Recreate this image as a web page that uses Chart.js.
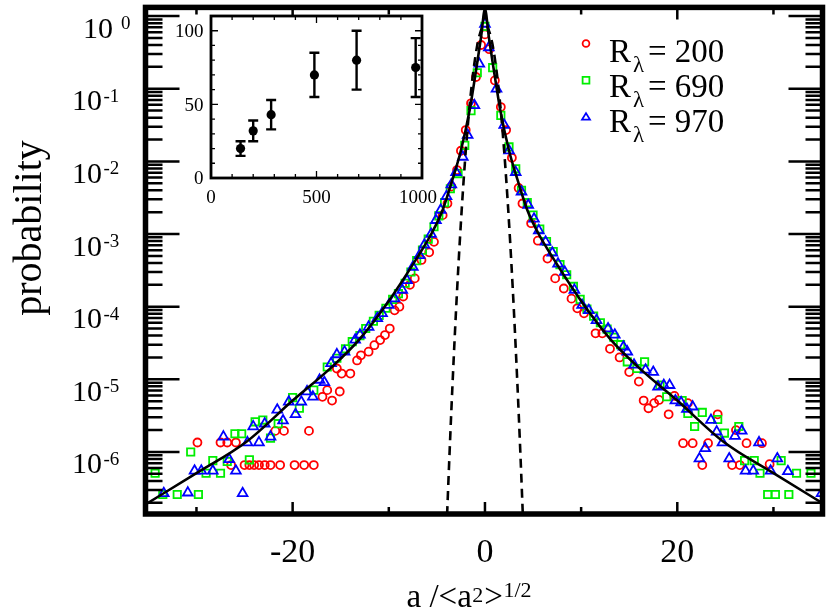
<!DOCTYPE html>
<html><head><meta charset="utf-8">
<script src="https://cdn.jsdelivr.net/npm/chart.js@4/dist/chart.umd.min.js"></script>
<style>
html,body{margin:0;padding:0;background:#fff;}
#wrap{position:relative;width:830px;height:614px;}
#wrap canvas{position:absolute;left:0;top:0;}
</style></head><body>
<div id="wrap"><canvas id="main" width="830" height="614"></canvas><canvas id="inset" width="830" height="614"></canvas></div>
<script>
// ---------- main panel data ----------
const r200X = [-29.9,-27.5,-26.8,-25.9,-26.4,-25.0,-24.5,-24.0,-23.5,-22.9,-22.3,-21.3,-19.8,-18.8,-17.8,-21.8,-20.9,-18.3,-16.9,-16.4,-15.9,-15.1,-15.4,-14.9,-14.0,-13.3,-12.9,-12.1,-11.5,-10.9,-10.4,-9.9,-9.4,-8.9,-8.5,-7.8,-7.3,-6.6,-5.8,-5.3,-4.4,-3.9,-3.5,-2.9,-2.5,-2.0,-1.45,-0.93,-0.4,0,
  0.45,1.03,1.65,2.2,2.8,3.5,3.9,4.8,5.5,6.5,7.3,8.2,9.0,9.6,10.3,11.5,12.2,13.0,14.0,15.0,16.0,16.5,17.0,17.6,18.1,19.1,19.7,20.6,21.1,21.6,22.6,23.2,24.2,25.7,26.1,26.5,27.2,28.8,29.6];
const r200P = [1.35e-6,1.35e-6,1.35e-6,1.35e-6,6.6e-7,6.6e-7,6.6e-7,6.6e-7,6.6e-7,6.6e-7,6.6e-7,6.6e-7,6.6e-7,6.6e-7,6.6e-7,1.95e-6,1.95e-6,1.95e-6,5.75e-6,7.1e-6,5.1e-6,6.8e-6,1.41e-5,1.2e-5,1.2e-5,1.82e-5,2.14e-5,2.4e-5,2.95e-5,3.47e-5,4.07e-5,5.0e-5,8.9e-5,1.0e-4,1.38e-4,2.0e-4,2.45e-4,4.4e-4,5.6e-4,7.8e-4,1.82e-3,2.63e-3,4.5e-3,7.6e-3,0.014,0.027,0.063,0.145,0.40,0.56,
  0.35,0.13,0.056,0.027,0.0112,4.3e-3,2.63e-3,1.41e-3,8.1e-4,4.6e-4,2.45e-4,1.78e-4,1.29e-4,9.5e-5,8.1e-5,4.3e-5,4.3e-5,2.63e-5,2.0e-5,1.26e-5,9.3e-6,5.1e-6,4.0e-6,4.7e-6,5.2e-6,3.3e-6,5.9e-6,1.32e-6,4.7e-6,1.32e-6,6.6e-7,1.32e-6,3.3e-6,6.6e-7,2.0e-6,6.6e-7,1.32e-6,1.32e-6,6.8e-7];

const r690X = [-34.3,-33.5,-32.0,-29.8,-30.6,-29.0,-27.5,-28.3,-26.8,-24.5,-26.0,-25.3,-23.9,-23.1,-22.3,-21.5,-20.0,-19.3,-17.8,-16.4,-15.4,-14.5,-13.8,-13.0,-12.4,-11.6,-11.0,-10.3,-9.6,-9.0,-8.3,-7.7,-7.1,-6.5,-5.9,-5.3,-4.8,-4.2,-3.6,-2.8,-2.1,-1.45,-0.8,0,
  0.8,1.65,2.5,3.2,3.8,4.4,5.0,5.7,6.4,7.1,7.8,8.5,9.2,9.9,10.6,11.3,12.0,12.7,13.4,14.1,14.8,15.8,16.6,18.2,18.9,20.5,21.1,21.8,22.6,24.2,24.9,26.4,27.0,28.0,28.6,29.4,30.2,31.6,30.8,32.4,33.9];
const r690P = [5.1e-7,2.6e-7,2.6e-7,2.6e-7,1.0e-6,5.1e-7,5.1e-7,7.6e-7,7.4e-7,7.8e-7,1.78e-6,1.78e-6,2.6e-6,2.75e-6,1.55e-6,2.45e-6,5.6e-6,4.0e-6,7.1e-6,1.48e-5,1.95e-5,2.63e-5,3.3e-5,4.0e-5,5.0e-5,6.3e-5,7.6e-5,9.5e-5,1.26e-4,1.51e-4,2.1e-4,3.0e-4,4.3e-4,6.0e-4,8.5e-4,1.26e-3,1.78e-3,2.7e-3,4.2e-3,6.8e-3,0.0166,0.05,0.166,0.72,
  0.195,0.043,0.0158,7.9e-3,4.0e-3,2.7e-3,1.82e-3,1.17e-3,7.9e-4,5.75e-4,3.8e-4,2.75e-4,1.9e-4,1.26e-4,9.3e-5,7.4e-5,6.0e-5,4.9e-5,3.8e-5,3.0e-5,1.74e-5,1.41e-5,1.74e-5,8.3e-6,5.75e-6,5.1e-6,3.4e-6,2.24e-6,3.5e-6,2.8e-6,1.82e-6,2.24e-6,7.6e-7,7.6e-7,5.1e-7,2.6e-7,2.6e-7,2.6e-7,7.6e-7,5.1e-7,5.1e-7];

const r970X = [-33.4,-30.9,-25.2,-30.2,-29.5,-28.3,-25.9,-26.6,-27.2,-24.7,-23.5,-22.3,-24.1,-22.9,-21.6,-21.0,-20.4,-19.7,-19.1,-18.5,-17.9,-17.2,-16.7,-16.0,-15.4,-14.6,-13.5,-13.0,-12.1,-11.2,-10.7,-10.0,-9.4,-8.6,-8.1,-7.5,-6.8,-6.3,-5.6,-5.1,-4.6,-4.0,-3.5,-3.0,-2.3,-1.8,-1.1,-0.59,0,
  0.4,1.2,2.0,2.5,3.2,3.8,4.5,5.1,5.6,6.3,7.0,7.6,8.3,9.3,10.1,10.8,11.6,12.8,13.5,14.4,14.8,15.5,16.7,17.5,18.0,18.6,19.2,19.8,20.4,21.0,21.6,22.3,22.9,23.5,24.1,24.7,25.4,26.0,26.7,27.1,27.9,28.5,29.7,30.4,31.5,35.0];
const r970P = [2.7e-7,2.75e-7,2.7e-7,5.5e-7,5.5e-7,5.5e-7,5.5e-7,7.9e-7,1.62e-6,1.35e-6,1.35e-6,1.62e-6,2.24e-6,2.45e-6,3.8e-6,2.7e-6,4.9e-6,3.3e-6,4.9e-6,6.8e-6,5.75e-6,9.8e-6,9.1e-6,1.66e-5,2.2e-5,2.4e-5,3.5e-5,4.1e-5,5.25e-5,6.9e-5,8.1e-5,1.05e-4,1.29e-4,1.7e-4,2.3e-4,3.5e-4,5.1e-4,7.1e-4,1.0e-3,1.55e-3,2.14e-3,3.3e-3,4.8e-3,7.1e-3,0.0115,0.023,0.059,0.22,0.78,
  0.37,0.1,0.0316,0.0141,7.1e-3,3.8e-3,2.5e-3,1.62e-3,1.12e-3,7.8e-4,5.5e-4,3.9e-4,3.0e-4,1.7e-4,1.05e-4,8.9e-5,6.5e-5,5.0e-5,4.1e-5,2.8e-5,2.4e-5,1.58e-5,1.35e-5,1.26e-5,7.9e-6,8.3e-6,8.3e-6,5.1e-6,4.8e-6,3.9e-6,4.2e-6,8.1e-7,1.12e-6,2.75e-6,1.9e-6,1.35e-6,8.1e-7,1.66e-6,1.95e-6,5.5e-7,5.5e-7,1.35e-6,5.5e-7,8.1e-7,5.4e-7,2.7e-7];

// solid fit curve
const fitX = [-35.3,-30,-24.8,-20,-16,-13.1,-10,-7.2,-5.5,-4.4,-3.4,-2.5,-1.6,-1.2,-0.8,-0.4,0,0.4,0.8,1.2,1.6,2.5,3.4,4.4,5.5,7.2,10,13.1,16,20,24.8,30,35.3];
const fitP = [1.9e-7,5.1e-7,1.38e-6,5.1e-6,1.45e-5,3.5e-5,1.2e-4,4.4e-4,1.05e-3,2.14e-3,5.5e-3,0.0141,0.050,0.105,0.23,0.52,1.25,0.52,0.23,0.105,0.050,0.0141,5.5e-3,2.14e-3,1.05e-3,4.4e-4,1.2e-4,3.5e-5,1.45e-5,5.1e-6,1.38e-6,5.1e-7,1.9e-7];

// dashed Gaussian curve
const gaussX = [-4,-3.75,-3.5,-3.25,-3,-2.75,-2.5,-2.25,-2,-1.75,-1.5,-1.25,-1,-0.75,-0.5,-0.25,0,0.25,0.5,0.75,1,1.25,1.5,1.75,2,2.25,2.5,2.75,3,3.25,3.5,3.75,4];
const gaussP = [8.4e-8,5.8e-7,3.6e-6,1.94e-5,9.3e-5,3.89e-4,1.45e-3,4.74e-3,0.01374,0.035,0.0791,0.157,0.276,0.428,0.584,0.704,0.75,0.704,0.584,0.428,0.276,0.157,0.0791,0.035,0.01374,4.74e-3,1.45e-3,3.89e-4,9.3e-5,1.94e-5,3.6e-6,5.8e-7,8.4e-8];

const xTickVals = [-20, 0, 20];
const xTickLabels = ['-20', '0', '20'];
const xMinorVals = [-30, -10, 10, 30];
const yDecades = [0, -1, -2, -3, -4, -5, -6];
const legendLabels = ['200', '690', '970'];

// ---------- inset data ----------
const insetX = [140, 200, 285, 490, 690, 970];
const insetY = [20, 32, 43, 70, 80, 75];
const insetErr = [5, 7, 10, 15, 20, 20];
const insetXTicks = [0, 500, 1000];
const insetYTicks = [0, 50, 100];

const SERIF = '"Liberation Serif", "Times New Roman", Times, serif';
const RED = '#ff0000', GREEN = '#00ee00', BLUE = '#0000ff';
const pts = (xs, ps) => xs.map((x, i) => ({x: x, y: ps[i]}));

function drawMarker(ctx, style, x, y, r, color) {
  ctx.save();
  ctx.strokeStyle = color; ctx.lineWidth = 1.8;
  ctx.beginPath();
  if (style === 'circle') ctx.arc(x, y, r, 0, Math.PI * 2);
  else if (style === 'rect') ctx.rect(x - r, y - r, 2 * r, 2 * r);
  else { ctx.moveTo(x, y - r * 1.1); ctx.lineTo(x + r * 1.1, y + r * 0.7); ctx.lineTo(x - r * 1.1, y + r * 0.7); ctx.closePath(); }
  ctx.stroke();
  ctx.restore();
}

const mainDecor = {
  id: 'mainDecor',
  afterDraw(chart) {
    const ctx = chart.ctx, ca = chart.chartArea;
    const xs = chart.scales.x, ys = chart.scales.y;
    ctx.save();
    ctx.strokeStyle = '#000'; ctx.fillStyle = '#000';
    // ticks
    ctx.lineWidth = 2.5;
    ctx.beginPath();
    const yMin = ys.min, yMax = ys.max;
    for (let k = -7; k <= 0; k++) {
      for (let m = 1; m <= 9; m++) {
        const v = m * Math.pow(10, k);
        if (v < yMin || v > yMax) continue;
        const py = ys.getPixelForValue(v);
        const len = (m === 1) ? 34 : 17;
        ctx.moveTo(ca.left, py); ctx.lineTo(ca.left + len, py);
        ctx.moveTo(ca.right, py); ctx.lineTo(ca.right - len, py);
      }
    }
    xTickVals.forEach(v => { const px = xs.getPixelForValue(v);
      ctx.moveTo(px, ca.bottom); ctx.lineTo(px, ca.bottom - 12);
      ctx.moveTo(px, ca.top); ctx.lineTo(px, ca.top + 12); });
    xMinorVals.forEach(v => { const px = xs.getPixelForValue(v);
      ctx.moveTo(px, ca.bottom); ctx.lineTo(px, ca.bottom - 7);
      ctx.moveTo(px, ca.top); ctx.lineTo(px, ca.top + 7); });
    ctx.stroke();
    // frame
    ctx.lineWidth = 5.5;
    ctx.strokeRect(ca.left, ca.top, ca.right - ca.left, ca.bottom - ca.top);

    // y tick labels 10^k
    ctx.textBaseline = 'alphabetic';
    yDecades.forEach(k => {
      const py = ys.getPixelForValue(Math.pow(10, k));
      ctx.font = '30px ' + SERIF;
      ctx.textAlign = 'right';
      const baseRight = (k === 0) ? 113 : 102;
      ctx.fillText('10', baseRight, py + 21.5);
      ctx.font = '19px ' + SERIF;
      ctx.textAlign = 'left';
      ctx.fillText(String(k), (k === 0) ? 121 : 103.5, py + 13);
    });
    // x tick labels
    ctx.font = '34px ' + SERIF;
    ctx.textAlign = 'center';
    xTickVals.forEach((v, i) => {
      const px = xs.getPixelForValue(v);
      ctx.fillText(xTickLabels[i], px, 562);
    });
    // x axis title: a /<a^2 >^1/2
    ctx.textAlign = 'left';
    let cx = 406.5;
    ctx.font = '33px ' + SERIF;
    ctx.fillText('a /<a', cx, 606.5); cx += ctx.measureText('a /<a').width + 0.5;
    ctx.font = '22px ' + SERIF;
    ctx.fillText('2', cx, 601.5); cx += ctx.measureText('2').width + 1;
    ctx.font = '33px ' + SERIF;
    ctx.fillText('>', cx, 606.5); cx += ctx.measureText('>').width + 0.5;
    ctx.font = '22px ' + SERIF;
    ctx.fillText('1/2', cx, 596.5);
    // y axis title
    ctx.save();
    ctx.translate(41, 228);
    ctx.rotate(-Math.PI / 2);
    ctx.font = '40px ' + SERIF;
    ctx.textAlign = 'center';
    ctx.fillText('probability', 0, 0);
    ctx.restore();

    // legend
    const styles = ['circle', 'rect', 'triangle'];
    const colors = [RED, GREEN, BLUE];
    const sizes = [3.4, 3.4, 3.6];
    legendLabels.forEach((lab, i) => {
      const base = 61.7 + i * 35;
      drawMarker(ctx, styles[i], 586, 43.5 + i * 36.8, sizes[i], colors[i]);
      ctx.fillStyle = '#000';
      ctx.textAlign = 'left';
      ctx.font = '33px ' + SERIF;
      ctx.fillText('R', 609, base);
      ctx.font = '23px ' + SERIF;
      ctx.fillText('\u03bb', 633, base + 10);
      ctx.font = '33px ' + SERIF;
      ctx.fillText('= ' + lab, 648, base);
    });
    ctx.restore();
  }
};

new Chart(document.getElementById('main'), {
  type: 'scatter',
  data: {
    datasets: [
      { type: 'line', label: 'fit', data: pts(fitX, fitP), borderColor: '#000', borderWidth: 2.6,
        pointRadius: 0, fill: false, showLine: true, cubicInterpolationMode: 'monotone', order: 0 },
      { type: 'line', label: 'gauss', data: pts(gaussX, gaussP), borderColor: '#000', borderWidth: 2.6,
        borderDash: [9, 6], pointRadius: 0, fill: false, showLine: true, cubicInterpolationMode: 'monotone', order: 1 },
      { label: 'R970', data: pts(r970X, r970P), pointStyle: 'triangle', pointRadius: 5.6,
        borderColor: BLUE, backgroundColor: 'rgba(0,0,0,0)', borderWidth: 1.8, order: 2 },
      { label: 'R690', data: pts(r690X, r690P), pointStyle: 'rect', pointRadius: 5.2,
        borderColor: GREEN, backgroundColor: 'rgba(0,0,0,0)', borderWidth: 1.8, order: 3 },
      { label: 'R200', data: pts(r200X, r200P), pointStyle: 'circle', pointRadius: 4,
        borderColor: RED, backgroundColor: 'rgba(0,0,0,0)', borderWidth: 1.8, order: 4 }
    ]
  },
  options: {
    responsive: false, animation: false, devicePixelRatio: 1,
    layout: { padding: { left: 145.5, right: 7.5, top: 7, bottom: 100 } },
    plugins: { legend: { display: false }, tooltip: { enabled: false } },
    scales: {
      x: { type: 'linear', min: -35.3, max: 35.1, display: false },
      y: { type: 'logarithmic', min: 1.4e-7, max: 1.317, display: false }
    }
  },
  plugins: [mainDecor]
});

// ---------- inset ----------
const insetDecor = {
  id: 'insetDecor',
  beforeDatasetsDraw(chart) {
    const ctx = chart.ctx, ca = chart.chartArea;
    const xs = chart.scales.x, ys = chart.scales.y;
    ctx.save();
    ctx.fillStyle = '#fff';
    ctx.fillRect(ca.left, ca.top, ca.right - ca.left, ca.bottom - ca.top);
    ctx.strokeStyle = '#000'; ctx.lineWidth = 2.4;
    ctx.beginPath();
    insetX.forEach((x, i) => {
      const px = xs.getPixelForValue(x);
      const lo = ys.getPixelForValue(insetY[i] - insetErr[i]);
      const hi = ys.getPixelForValue(insetY[i] + insetErr[i]);
      ctx.moveTo(px, lo); ctx.lineTo(px, hi);
      ctx.moveTo(px - 5, lo); ctx.lineTo(px + 5, lo);
      ctx.moveTo(px - 5, hi); ctx.lineTo(px + 5, hi);
    });
    ctx.stroke();
    ctx.restore();
  },
  afterDraw(chart) {
    const ctx = chart.ctx, ca = chart.chartArea;
    const xs = chart.scales.x, ys = chart.scales.y;
    ctx.save();
    ctx.strokeStyle = '#000'; ctx.fillStyle = '#000';
    ctx.lineWidth = 1.3;
    ctx.beginPath();
    for (let v = 0; v <= 1000; v += 100) {
      const px = xs.getPixelForValue(v);
      const len = (v % 500 === 0) ? 7 : 4;
      ctx.moveTo(px, ca.bottom); ctx.lineTo(px, ca.bottom - len);
      ctx.moveTo(px, ca.top); ctx.lineTo(px, ca.top + len);
    }
    for (let v = 0; v <= 110; v += 10) {
      const py = ys.getPixelForValue(v);
      const len = (v % 50 === 0) ? 7 : 4;
      ctx.moveTo(ca.left, py); ctx.lineTo(ca.left + len, py);
      ctx.moveTo(ca.right, py); ctx.lineTo(ca.right - len, py);
    }
    ctx.stroke();
    ctx.lineWidth = 2.8;
    ctx.strokeRect(ca.left, ca.top, ca.right - ca.left, ca.bottom - ca.top);
    ctx.font = '19px ' + SERIF;
    ctx.textAlign = 'right'; ctx.textBaseline = 'middle';
    insetYTicks.forEach(v => ctx.fillText(String(v), 203.5, ys.getPixelForValue(v) + 1.5));
    ctx.textAlign = 'center'; ctx.textBaseline = 'alphabetic';
    insetXTicks.forEach(v => ctx.fillText(String(v), xs.getPixelForValue(v) - (v === 1000 ? 4 : 0), 203));
    ctx.restore();
  }
};

new Chart(document.getElementById('inset'), {
  type: 'scatter',
  data: { datasets: [ { label: 'inset', data: pts(insetX, insetY), pointStyle: 'circle', pointRadius: 4.6,
    backgroundColor: '#000', borderColor: '#000', borderWidth: 0 } ] },
  options: {
    responsive: false, animation: false, devicePixelRatio: 1,
    layout: { padding: { left: 211, right: 408, top: 16, bottom: 436 } },
    plugins: { legend: { display: false }, tooltip: { enabled: false } },
    scales: {
      x: { type: 'linear', min: 0, max: 1000, display: false },
      y: { type: 'linear', min: 0, max: 110, display: false }
    }
  },
  plugins: [insetDecor]
});
</script>
</body></html>
